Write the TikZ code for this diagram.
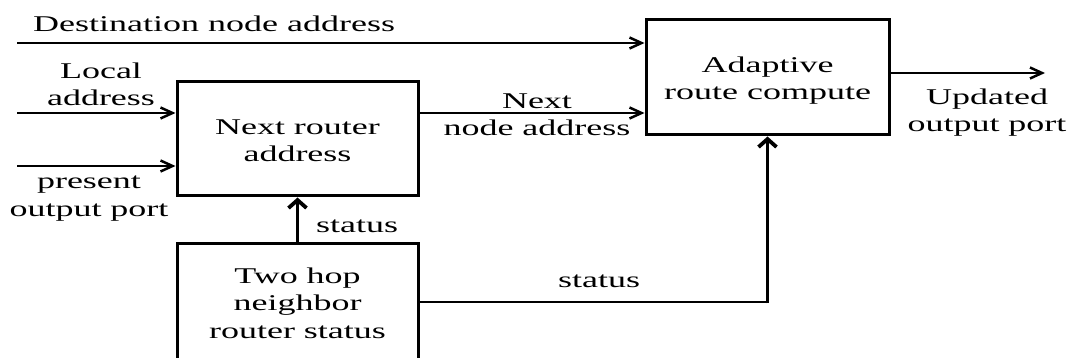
\documentclass[tikz,border=0pt]{standalone}
\usepackage{fontspec}
\setmainfont{Liberation Serif}[FakeStretch=1.6]
\usetikzlibrary{arrows.meta}

\begin{document}
\begin{tikzpicture}[x=1pt,y=-1pt,
  box/.style={draw, line width=3pt, minimum width=241pt, minimum height=114pt, inner sep=0pt},
  lbl/.style={inner sep=0pt, align=center, anchor=base, font=\fontsize{22.5pt}{27.5pt}\selectfont},
  hconn/.style={line width=2.5pt, -{Straight Barb[length=12pt,width=11pt]}},
  vconn/.style={line width=3.8pt, -{Straight Barb[length=8pt,width=18pt]}},
  wire/.style={line width=2.5pt},
]
% page frame
\useasboundingbox (0,0) rectangle (1073,358);
\clip (0,0) rectangle (1073,358);
\fill[white] (0,0) rectangle (1073,358);

% blocks
\node[box] (nr) at (297.5,139) {};
\node[box, minimum height=118pt] (th) at (297.5,302) {};
\node[box, minimum width=243pt, minimum height=115pt] (ad) at (767.5,77.5) {};

% free ends of the signals
\coordinate (dst) at (17,43);
\coordinate (loc) at (17,113);
\coordinate (pre) at (17,166);
\coordinate (nxt) at (0,113);
\coordinate (upd) at (1045,73);

% signal lines
\draw[hconn] (dst) -- (dst -| ad.west);
\draw[hconn] (loc) -- (loc -| nr.west);
\draw[hconn] (pre) -- (pre -| nr.west);
\draw[hconn] (nxt -| nr.east) -- (nxt -| ad.west);
\draw[hconn] (upd -| ad.east) -- (upd);
\draw[vconn] (th.north) -- (nr.south);
\draw[wire] (th.east) -- ([xshift=1.9pt]th.east -| ad.south);
\draw[vconn] ([yshift=-1.25pt]th.east -| ad.south) -- (ad.south);

% texts (multi-line labels are placed by the baseline of their last line)
\node[lbl, anchor=base west] (dstL) at (33,32) {Destination node address};
\node[lbl] (locL) at (101,106) {Local\\address};
\node[lbl] (preL) at (89,216) {present\\output port};
\node[lbl] (nrL) at (297.5,162) {Next router\\address};
\node[lbl, anchor=base west] (st1) at (316,232) {status};
\node[lbl] (thL) at (297.5,338) {Two hop\\neighbor\\router status};
\node[lbl] (nxL) at (537,136) {Next\\node address};
\node[lbl] (adL) at (767.5,100) {Adaptive\\route compute};
\node[lbl] (upL) at (987,132) {Updated\\output port};
\node[lbl, anchor=base west] (st2) at (558,287) {status};
\end{tikzpicture}
\end{document}
